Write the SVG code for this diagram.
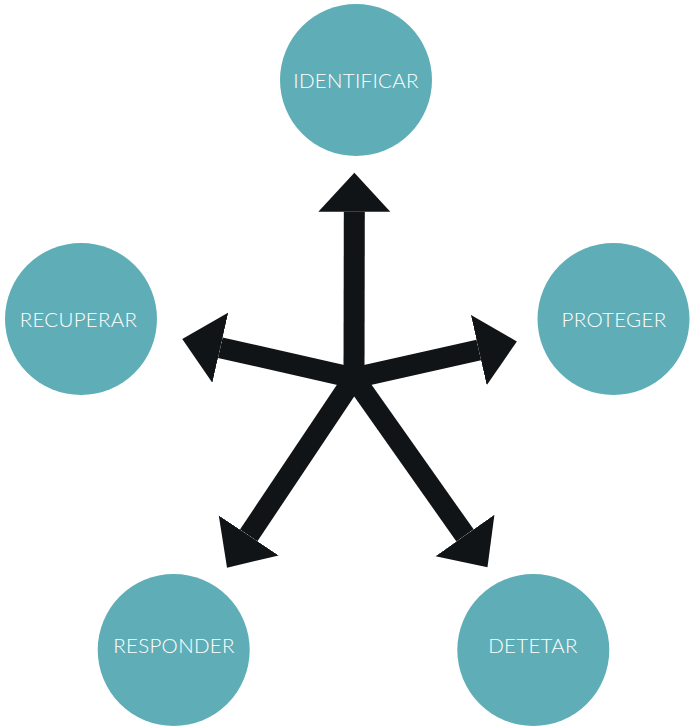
<svg xmlns="http://www.w3.org/2000/svg" width="690" height="726" viewBox="0 0 690 726">
<style>
.node circle{fill:#5FAEB7}
.node text{fill:#ffffff;font-family:Lato,"Open Sans","Liberation Sans",sans-serif;font-size:20.5px;font-weight:300;letter-spacing:0.3px;text-anchor:middle}
.conn line{stroke:#111416;stroke-width:21;fill:none}
</style>
<defs>
<marker id="head" markerUnits="userSpaceOnUse" markerWidth="40" markerHeight="74" viewBox="0 -37 40 74" refX="0" refY="0" orient="auto">
<path d="M0,-36 L39,0 L0,36 z" fill="#111416"/>
</marker>
</defs>
<g id="connectors" class="conn">
<line x1="354" y1="378" x2="354.3" y2="211.7" marker-end="url(#head)"/>
<line x1="354" y1="378" x2="220.3" y2="347.7" marker-end="url(#head)"/>
<line x1="354" y1="378" x2="478.8" y2="350" marker-end="url(#head)"/>
<line x1="354" y1="378" x2="248.7" y2="535.4" marker-end="url(#head)"/>
<line x1="354" y1="378" x2="465" y2="535.4" marker-end="url(#head)"/>
</g>
<g id="identificar" class="node"><circle cx="356" cy="80" r="76"/><text x="356" y="88">IDENTIFICAR</text></g>
<g id="proteger" class="node"><circle cx="613.5" cy="319" r="76"/><text x="614" y="327">PROTEGER</text></g>
<g id="recuperar" class="node"><circle cx="81" cy="319" r="76"/><text x="78.5" y="327">RECUPERAR</text></g>
<g id="responder" class="node"><circle cx="173.7" cy="650" r="76"/><text x="174" y="653">RESPONDER</text></g>
<g id="detetar" class="node"><circle cx="533.3" cy="650" r="76"/><text x="533" y="653">DETETAR</text></g>
</svg>
